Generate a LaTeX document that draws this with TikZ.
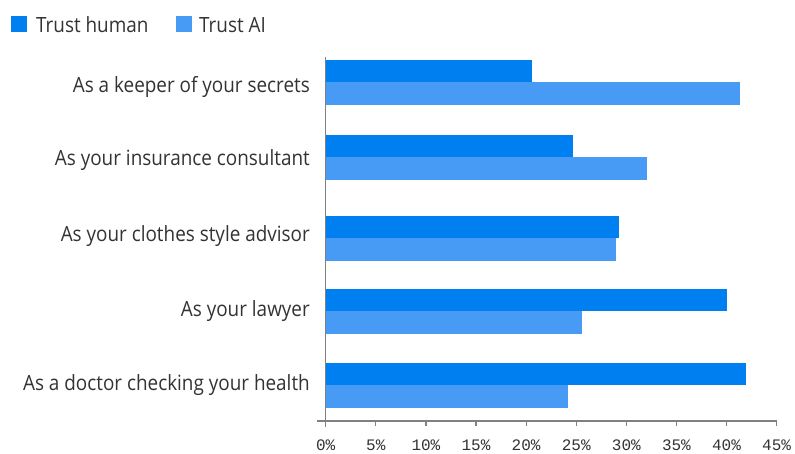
\documentclass[tikz,border=0pt]{standalone}
\usepackage{fontspec}
\setmainfont{Open Sans}
\newfontfamily\labfont[FakeStretch=0.9]{Open Sans}
\newfontfamily\tickfont{Liberation Mono}
\definecolor{humanblue}{HTML}{0080F0}
\definecolor{aiblue}{HTML}{489BF4}
\definecolor{txtgray}{HTML}{333333}
\definecolor{axisgray}{HTML}{808080}

\begin{document}
\begin{tikzpicture}[x=1pt,y=-1pt]
\tikzset{catlabel/.style={anchor=base east,inner sep=0,text=txtgray,font=\labfont\fontsize{21}{21}\selectfont},
  legtext/.style={anchor=base west,inner sep=0,text=txtgray,font=\labfont\fontsize{21}{21}\selectfont},
  ticklabel/.style={anchor=base,inner sep=0,text=txtgray,font=\tickfont\fontsize{16}{16}\selectfont},
  axisline/.style={draw=axisgray,line width=1.2pt}}
\useasboundingbox (0,0) rectangle (795,453);
% legend
\fill[humanblue] (11,16) rectangle (27,32);
\node[legtext] (leghuman) at (36,32) {Trust human};
\fill[aiblue] (176,16) rectangle (192,32);
\node[legtext] (legai) at (199,32) {Trust AI};
% bars: top / human / AI / label baseline / text
\foreach \t/\h/\a/\b/\txt [count=\i] in {
  60/20.6/41.3/92.3/As a keeper of your secrets,
  135/24.7/32.1/165.7/As your insurance consultant,
  216/29.3/29.0/241.7/As your clothes style advisor,
  289/40.0/25.6/316/As your lawyer,
  363/41.9/24.2/390/As a doctor checking your health}{
  \fill[humanblue] (325.7,\t) rectangle ++(\h*10.02,22.3);
  \fill[aiblue] (325.7,\t+22.3) rectangle ++(\a*10.02,22.4);
  \node[catlabel] (cat\i) at (310,\b) {\txt};
}
% axes
\draw[axisline] (325.7,56.7) -- (325.7,426.5);
\draw[axisline] (317.3,421) -- (776.7,421);
\foreach \v in {0,5,...,45}{
  \draw[axisline] (325.7+\v*10.02,421) -- ++(0,4.5);
  \node[ticklabel] (tick\v) at (325.7+\v*10.02,450.3) {\v\%};
}
\end{tikzpicture}
\end{document}
